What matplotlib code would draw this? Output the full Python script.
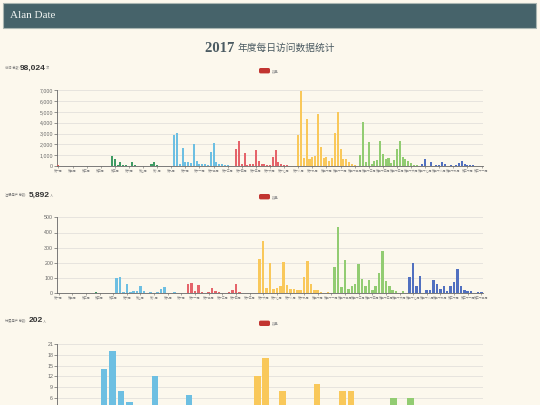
import numpy as np
import matplotlib
matplotlib.use("Agg")
import matplotlib.pyplot as plt
from matplotlib.patches import Rectangle, FancyBboxPatch
from matplotlib.transforms import IdentityTransform
from matplotlib.ticker import FuncFormatter

# ----------------------------
# data
# ----------------------------
title_year = "2017"
title_text = "年度每日访问数据统计"
legend_name = "数量"

# panel 1 : visits
visit_values = [
    60, 40, 10, 0, 0, 0, 20, 10, 0, 0, 0, 0, 0, 0, 10, 0, 0, 0, 0,
    930, 650, 100, 350, 120, 100, 30, 400, 50, 30, 20, 20, 10, 10, 220, 380, 50, 20, 10, 10, 5, 0,
    2900, 3030, 200, 1670, 350, 350, 300, 2000, 460, 200, 200, 150, 100, 1300, 2130, 350, 200, 150, 80, 50, 30, 10,
    1540, 2310, 150, 1170, 100, 200, 200, 1460, 450, 150, 180, 100, 120, 830, 1500, 400, 200, 100, 50, 30, 10, 0,
    2900, 6970, 750, 4320, 620, 870, 930, 4810, 1730, 700, 870, 460, 740, 3020, 4970, 1540, 650, 680, 370, 150, 100, 30,
    990, 4040, 370, 2190, 200, 500, 520, 2310, 1140, 620, 770, 250, 560, 1540, 2310, 870, 620, 460, 310, 100, 60, 20,
    200, 620, 30, 370, 20, 50, 50, 340, 190, 40, 100, 40, 60, 250, 460, 200, 60, 60, 60, 30, 20, 10,
]
visit_blocks = [19, 22, 22, 22, 22, 22, 22]
visit_colors = ["#d9605a", "#3f9b63", "#6dbfe2", "#e5646a", "#f9c85a", "#92cc72", "#5170c0"]

# panel 2 : registered users
signup_values = [
    0, 0, 0, 0, 0, 5, 0, 3, 3, 0, 0, 8, 0, 3, 0, 3, 0,
    103, 110, 8, 60, 8, 15, 15, 45, 12, 5, 8, 5, 8, 28, 44, 5, 0, 8, 0, 3, 0,
    62, 70, 12, 52, 10, 3, 8, 35, 18, 6, 5, 5, 8, 20, 59, 8, 3, 5, 5, 5, 3,
    223, 347, 35, 200, 30, 35, 45, 204, 57, 30, 30, 20, 25, 110, 210, 59, 20, 20, 10, 3, 8, 3,
    175, 434, 40, 221, 28, 45, 58, 193, 92, 45, 88, 25, 45, 132, 276, 83, 50, 25, 15, 5, 18, 0,
    105, 200, 48, 116, 5, 20, 25, 90, 60, 30, 48, 12, 48, 75, 158, 50, 20, 12, 12, 3, 10, 8,
]
signup_blocks = [17, 21, 21, 22, 22, 22]
signup_colors = ["#3f9b63", "#6dbfe2", "#e5646a", "#f9c85a", "#92cc72", "#5170c0"]

# panel 3 : paying users
paid_values = [
    2, 1, 3, 2,
    3, 14, 19, 8, 5, 2, 3, 12, 1, 3, 4, 7, 2,
    1, 2, 4, 1, 3, 2,
    12, 17, 3, 8, 2, 4, 1, 10, 3, 2, 8, 8, 1,
    2, 3, 1, 6, 2, 6, 1, 3, 2,
    1, 2, 1, 3, 2,
]
paid_blocks = [4, 13, 6, 13, 9, 5]
paid_colors = ["#3f9b63", "#6dbfe2", "#e5646a", "#f9c85a", "#92cc72", "#5170c0"]

panel_names = ["访问 总数:", "注册用户 总数:", "付费用户 总数:"]
panel_totals = ["98,024", "5,892", "202"]
panel_units = ["次", "人", "人"]

# ----------------------------
W, H = 540, 405
BG = "#fcf8ed"
CJK = ["Noto Sans CJK SC", "DejaVu Sans"]
SERIF = ["Liberation Serif", "Noto Sans CJK SC"]
SANS = ["Liberation Sans", "Noto Sans CJK SC"]

fig = plt.figure(figsize=(W / 100, H / 100), dpi=100, facecolor=BG)
renderer = fig.canvas.get_renderer()


def cn_num(n):
    d = "零一二三四五六七八九"
    if n < 10:
        return d[n]
    if n < 20:
        return "十" + (d[n % 10] if n % 10 else "")
    return d[n // 10] + "十" + (d[n % 10] if n % 10 else "")


def px_rect(x0, y0, x1, y1):
    # pixel box (top-left origin) -> figure fraction
    return [x0 / W, 1 - y1 / H, (x1 - x0) / W, (y1 - y0) / H]


def draw_panel(rect, values, blocks, colors, ymax, ystep, every, barw,
               show_x=True, ylab_min=0):
    ax = fig.add_axes(rect)
    ax.set_facecolor("none")
    cols = []
    for n, c in zip(blocks, colors):
        cols += [c] * n
    x = np.arange(len(values))
    ax.bar(x, values, width=barw, color=cols, zorder=3, linewidth=0)
    ax.set_xlim(-0.5, len(values) - 0.5)
    ax.set_ylim(0, ymax)
    ax.set_yticks(np.arange(0, ymax + 1, ystep))
    # labels that fall below the page crop are left blank
    ax.yaxis.set_major_formatter(
        FuncFormatter(lambda v, p: f"{int(v):,}" if v >= ylab_min else ""))
    ticks = x[::every]
    ax.set_xticks(ticks)
    ax.set_xticklabels(["第" + cn_num(i + 1) + "周" for i in range(len(ticks))],
                       fontsize=2.1, family=CJK, color="#8a8a8a")
    ax.grid(axis="y", color="#e3e1dc", lw=0.6, zorder=0)
    for s in ["top", "right"]:
        ax.spines[s].set_visible(False)
    for s in ["left", "bottom"]:
        ax.spines[s].set_color("#666666")
        ax.spines[s].set_linewidth(0.6)
    ax.tick_params(axis="y", labelsize=3.8, length=2, width=0.5, colors="#666666", pad=0.8)
    ax.tick_params(axis="x", length=1.5, width=0.4, color="#666666", pad=0.8,
                   labelbottom=show_x)
    for lab in ax.get_yticklabels():
        lab.set_family(SANS)
    return ax


def stat_line(y, name, total, unit, num_x):
    fig.text(5 / W, 1 - y / H, name, fontsize=2.3, color="#777777",
             family=CJK, va="center", ha="left")
    t = fig.text(num_x / W, 1 - y / H, total, fontsize=6, fontweight="bold",
                 color="#333333", family=SANS, va="center", ha="left")
    x = num_x + t.get_window_extent(renderer=renderer).width
    fig.text(x / W, 1 - y / H, unit, fontsize=2.3, color="#777777",
             family=CJK, va="center", ha="left")


def legend_chip(y):
    box = FancyBboxPatch((259, H - y - 2.7), 11, 5.4,
                         boxstyle="round,pad=0,rounding_size=1.6",
                         transform=IdentityTransform(), facecolor="#c23531",
                         edgecolor="none")
    fig.patches.append(box)
    fig.text(272 / W, 1 - y / H, legend_name, fontsize=2.4, color="#999999",
             family=CJK, va="center", ha="left")


# header bar
fig.patches.append(Rectangle((3 / W, 1 - 28 / H), 533 / W, 25 / H,
                             transform=fig.transFigure, facecolor="#46636a",
                             edgecolor="#aab6b2", lw=0.8))
fig.text(10 / W, 1 - 16 / H, "Alan Date", color="#eef2f0", fontsize=8,
         family=SERIF, va="center", ha="left")

# page title : year in bold serif, rest in CJK, centred together
t1 = fig.text(0, 1 - 48 / H, title_year + " ", color="#4b5b62", fontsize=10.5,
              fontweight="bold", family=SERIF, va="center", ha="left")
t2 = fig.text(0, 1 - 48 / H, title_text, color="#4b5b62", fontsize=7,
              family=CJK, va="center", ha="left")
w1 = t1.get_window_extent(renderer=renderer).width
w2 = t2.get_window_extent(renderer=renderer).width
x0 = 270 - (w1 + w2) / 2
t1.set_x(x0 / W)
t2.set_x((x0 + w1) / W)

# panels
draw_panel(px_rect(57, 90.3, 483, 166), visit_values, visit_blocks, visit_colors,
           7000, 1000, 5, 0.72)
draw_panel(px_rect(57, 217.3, 483, 293.3), signup_values, signup_blocks, signup_colors,
           500, 100, 4, 0.75)
draw_panel(px_rect(57, 343.7, 483, 420.2), paid_values, paid_blocks, paid_colors,
           21, 3, 2, 0.78, show_x=False, ylab_min=6)

for y, nm, tot, un, nx in zip([68, 195, 321], panel_names, panel_totals, panel_units,
                              [20, 29, 29]):
    stat_line(y, nm, tot, un, nx)

for y in [70.7, 196.7, 323.3]:
    legend_chip(y)

fig.savefig("out.png", dpi=100, facecolor=BG)
plt.close(fig)
